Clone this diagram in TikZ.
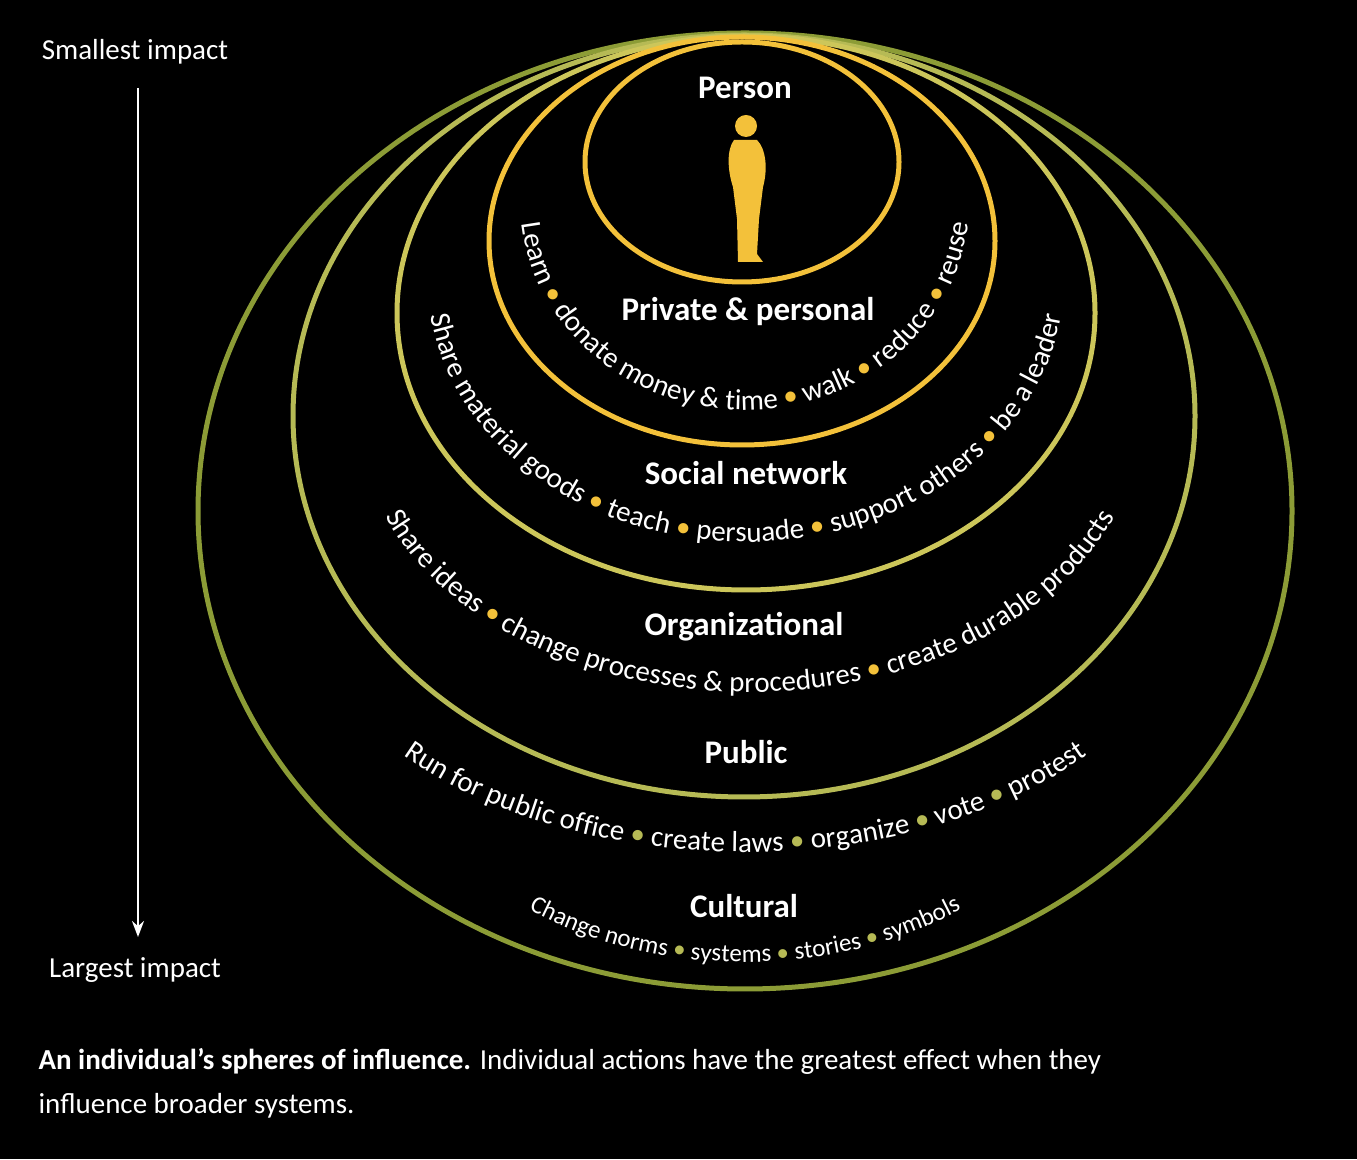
\documentclass[tikz,border=0pt]{standalone}
\usepackage{fontspec}
\setmainfont{Carlito}
\usetikzlibrary{decorations.text,arrows.meta}

\definecolor{ringY}{HTML}{F3C13A}
\definecolor{ringYG}{HTML}{CCC65A}
\definecolor{ringG}{HTML}{B6BA55}
\definecolor{ringD}{HTML}{8C9C36}

\tikzset{
    ring/.style={line width=5pt},
    title/.style={text=white,font=\fontsize{33}{36}\selectfont\bfseries},
    side/.style={text=white,font=\fontsize{29}{32}\selectfont}
}

% text along the inside of a ring
\newcommand{\actions}[4]{%
    \path[decorate,decoration={text along path,text align=center,
        text color=white,text={#4}}]
        (#1) ++(150:#2 and #3) arc[start angle=150,end angle=390,
        x radius=#2,y radius=#3];}
\newcommand{\dotY}{{\textcolor{ringY}{•}}}
\newcommand{\dotG}{{\textcolor{ringG}{•}}}

\begin{document}
\begin{tikzpicture}[x=1pt,y=1pt]
    \fill[black] (0,0) rectangle (1357,1159);
    \useasboundingbox (0,0) rectangle (1357,1159);

    % rings, outermost first
    \draw[ring,ringD] (745,648) ellipse[x radius=547,y radius=478];
    \draw[ring,ringG] (744,743) ellipse[x radius=451,y radius=381];
    \draw[ring,ringYG] (746,846) ellipse[x radius=349,y radius=277];
    \draw[ring,ringY] (742,918) ellipse[x radius=253,y radius=204];
    \draw[ring,ringY] (742,997) ellipse[x radius=157,y radius=120];

    % figure
    \fill[ringY] (746,1033) circle (11);
    \fill[ringY] (734,1019) -- (757,1019) .. controls (766,1010) and (768,990) .. (763,972)
        -- (759,940) -- (757,905) -- (763,897) -- (738,897) -- (737,940)
        -- (733,972) .. controls (727,990) and (727,1010) .. (734,1019) -- cycle;

    % ring titles
    \node[title] (person) at (745,1071) {Person};
    \node[title] (private) at (748,847) {Private \& personal};
    \node[title] (social) at (746,686) {Social network};
    \node[title] (org) at (744,532) {Organizational};
    \node[title] (public) at (746,407) {Public};
    \node[title] (cultural) at (744,253) {Cultural};

    % actions
    \begin{scope}
        \fontsize{29}{32}\selectfont
        \actions{745,959}{225}{210}{Learn {\dotY} donate money {\&} time {\dotY} walk {\dotY} reduce {\dotY} reuse}
        \actions{746,879}{318}{262}{Share material goods {\dotY} teach {\dotY} persuade {\dotY} support others {\dotY} be a leader}
        \actions{750,739}{390}{272}{Share ideas {\dotY} change processes {\&} procedures {\dotY} create durable products}
        \actions{745,599}{460}{292}{Run for public office {\dotG} create laws {\dotG} organize {\dotG} vote {\dotG} protest}
    \end{scope}
    \begin{scope}
        \fontsize{25}{28}\selectfont
        \actions{745,459}{360}{262}{Change norms {\dotG} systems {\dotG} stories {\dotG} symbols}
    \end{scope}

    % impact scale
    \node[side] (small) at (135,1107) {Smallest impact};
    \node[side] (large) at (135,189) {Largest impact};
    \coordinate (top) at (138,1071);
    \coordinate (bottom) at (138,222);
    \draw[white,line width=2.5pt,-{Stealth[length=16pt,width=12pt]}] (top) -- (bottom);
    \node[text=white,anchor=north west,align=left,
        font=\fontsize{29}{44}\selectfont] (caption) at (35,114)
        {\textbf{An individual’s spheres of influence.} Individual actions have the greatest effect when they\\influence broader systems.};
\end{tikzpicture}
\end{document}
